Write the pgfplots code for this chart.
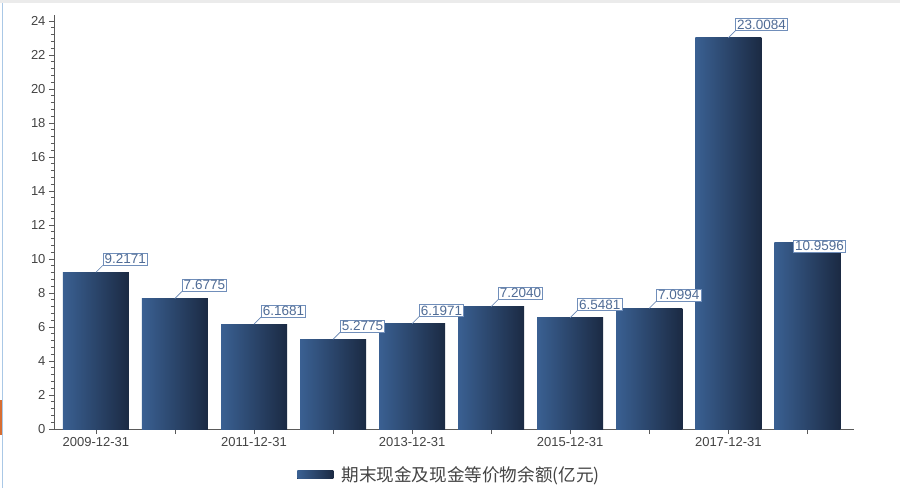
\documentclass[border=0pt]{standalone}
\usepackage{pgfplots}
\pgfplotsset{compat=1.18}
\usepackage{fontspec}
\setmainfont{Liberation Sans}
\newfontfamily\cjk{Noto Sans CJK SC}

\definecolor{barL}{RGB}{58,96,146}
\definecolor{barR}{RGB}{27,42,67}
\definecolor{lbltext}{RGB}{80,108,150}
\definecolor{lblborder}{RGB}{112,142,186}
\definecolor{axisgray}{RGB}{90,90,90}
\definecolor{ticktext}{RGB}{68,68,68}

\tikzset{
    lblbox/.style={
        draw=lblborder, line width=0.6pt, fill=white, text=lbltext,
        inner xsep=1.5pt, inner ysep=1.2pt,
        font=\fontsize{13.5}{15}\selectfont,
    },
}
\pgfplotsset{
    gbar/.style={forget plot, bar shift=0pt, draw=none, left color=barL, right color=barR},
    upleft/.style={
        every node near coord/.append style={
            lblbox, anchor=south west, xshift=7pt, yshift=7pt,
            append after command={(\tikzlastnode.south west) edge[draw=lblborder, line width=0.6pt] ++(-7pt,-7pt)},
        },
    },
}

\begin{document}
\begin{tikzpicture}
    % picture frame: 900 x 488, axis origin sits at (54,429) px
    \useasboundingbox (-54pt,-59pt) rectangle (846pt,429pt);
    \fill[white] (-54pt,-59pt) rectangle (846pt,429pt);
    \fill[black!8] (-54pt,426pt) rectangle (846pt,429pt);
    \draw[color={rgb,255:red,170;green,200;blue,230}, line width=0.8pt] (-51.5pt,-59pt) -- (-51.5pt,426pt);
    \fill[color={rgb,255:red,215;green,110;blue,50}] (-54pt,-6pt) rectangle (-52pt,29pt);

    \begin{axis}[
        scale only axis,
        width=800pt,
        height=414pt,
        xmin=-0.53, xmax=9.59,
        ymin=0, ymax=24.35,
        axis lines*=left,
        axis line style={axisgray, line width=0.8pt},
        clip=false,
        tick align=outside,
        tick style={axisgray, line width=0.7pt},
        major tick length=5pt,
        minor tick length=3pt,
        xtick={0,...,9},
        xticklabels={2009-12-31,,2011-12-31,,2013-12-31,,2015-12-31,,2017-12-31,},
        ytick={0,2,...,24},
        minor y tick num=4,
        ticklabel style={font=\fontsize{13}{15}\selectfont, text=ticktext},
        /pgf/number format/assume math mode=true,
        ybar,
        bar width=66pt,
        point meta=explicit symbolic,
        nodes near coords,
        legend style={
            at={(axis description cs:0.304,-0.111)}, anchor=west,
            draw=none, fill=none, inner xsep=0pt,
            font=\cjk\fontsize{17.6}{19}\selectfont, text=ticktext,
        },
        legend image code/.code={
            \fill[left color=barL, right color=barR] (0pt,-4pt) rectangle (36pt,4pt);
            \path (0pt,0pt) -- (42pt,0pt);
        },
    ]
    \addplot[gbar, upleft] coordinates {(0,9.2171) [9.2171]};
    \addplot[gbar, upleft] coordinates {(1,7.6775) [7.6775]};
    \addplot[gbar, upleft] coordinates {(2,6.1681) [6.1681]};
    \addplot[gbar, upleft] coordinates {(3,5.2775) [5.2775]};
    \addplot[gbar, upleft] coordinates {(4,6.1971) [6.1971]};
    \addplot[gbar, upleft] coordinates {(5,7.2040) [7.2040]};
    \addplot[gbar, upleft] coordinates {(6,6.5481) [6.5481]};
    \addplot[gbar, upleft] coordinates {(7,7.0994) [7.0994]};
    \addplot[gbar, upleft] coordinates {(8,23.0084) [23.0084]};
    \addplot[gbar,
        every node near coord/.append style={lblbox, anchor=north west, xshift=-14pt, yshift=3pt},
    ] coordinates {(9,10.9596) [10.9596]};

    \addlegendimage{draw=none}
    \addlegendentry{期末现金及现金等价物余额(亿元)}
    \end{axis}
\end{tikzpicture}
\end{document}
